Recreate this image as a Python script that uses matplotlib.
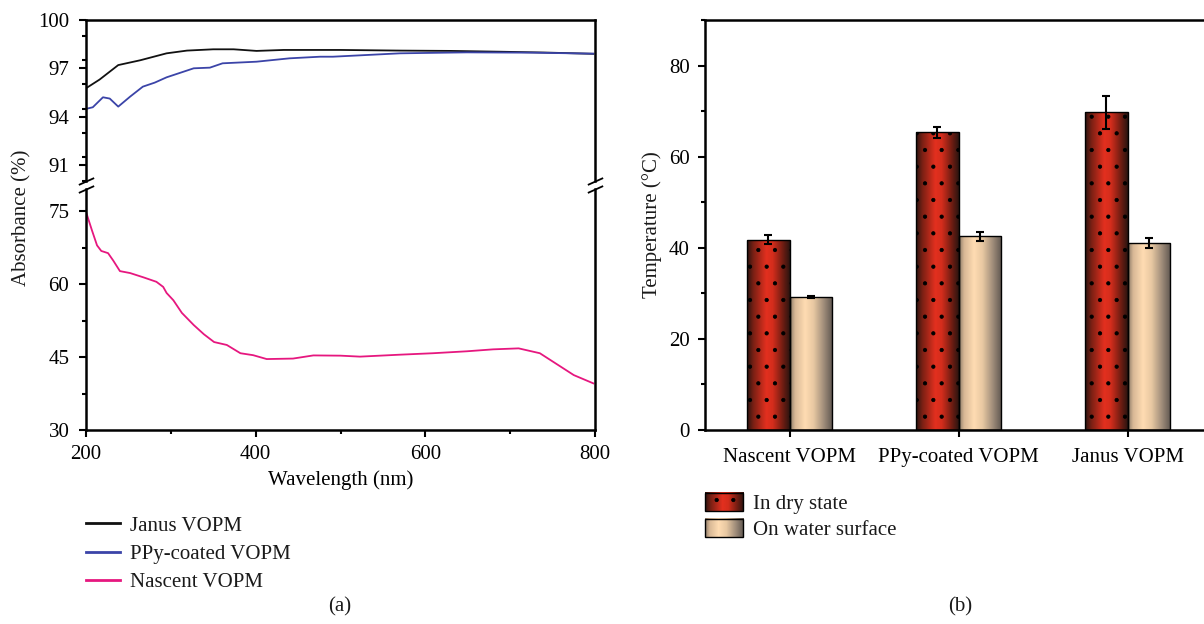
import numpy as np
import matplotlib.pyplot as plt
from matplotlib.colors import LinearSegmentedColormap
from matplotlib.legend_handler import HandlerBase
from matplotlib.image import BboxImage
from matplotlib.transforms import Bbox, TransformedBbox
from matplotlib.patches import Rectangle
from matplotlib.lines import Line2D
from matplotlib.ticker import MultipleLocator

plt.rcParams['font.family'] = ['Liberation Serif', 'DejaVu Serif']
plt.rcParams['font.size'] = 15
plt.rcParams['text.color'] = '#1a1a1a'
plt.rcParams['hatch.linewidth'] = 0.6

# (a) absorbance spectra
wl_janus = [200, 216, 238, 264, 295, 319, 350, 374, 401, 433, 452, 500, 570, 630, 688, 740, 798]
abs_janus = [95.76, 96.3, 97.2, 97.5, 97.93, 98.1, 98.18, 98.18, 98.08, 98.14, 98.14, 98.14,
             98.1, 98.08, 98.03, 97.98, 97.9]

wl_ppy = [200, 208, 220, 228, 238, 252, 267, 281, 295, 327, 346, 361, 401, 440, 476, 491,
          570, 649, 727, 798]
abs_ppy = [94.48, 94.58, 95.2, 95.12, 94.62, 95.24, 95.86, 96.11, 96.44, 97.0, 97.04, 97.31,
           97.41, 97.62, 97.72, 97.72, 97.93, 97.99, 97.97, 97.91]

wl_nascent = [200, 207, 213, 218, 226, 232, 240, 252, 268, 283, 291, 295, 303, 313, 327, 339,
              351, 366, 382, 397, 413, 444, 468, 500, 523, 570, 609, 649, 680, 710, 735, 751,
              775, 798]
abs_nascent = [74.9, 71.1, 68.0, 66.85, 66.4, 64.9, 62.7, 62.3, 61.4, 60.5, 59.45, 58.2, 56.7,
               54.1, 51.6, 49.7, 48.1, 47.5, 45.8, 45.4, 44.6, 44.7, 45.35, 45.3, 45.1, 45.5,
               45.8, 46.2, 46.6, 46.8, 45.8, 44.0, 41.3, 39.6]

# (b) surface temperature
samples = ['Nascent VOPM', 'PPy-coated VOPM', 'Janus VOPM']
temp_dry = [41.8, 65.4, 69.7]
err_dry = [1.0, 1.2, 3.6]
temp_water = [29.2, 42.5, 41.0]
err_water = [0.3, 1.0, 1.1]

cmap_dry = LinearSegmentedColormap.from_list('dry', [
    (0, '#2a1410'), (0.15, '#7a2014'), (0.45, '#e3301f'), (0.6, '#d42d1c'),
    (0.85, '#6a1c12'), (1, '#2a1410')])
cmap_water = LinearSegmentedColormap.from_list('water', [
    (0, '#8c7a68'), (0.12, '#d8b896'), (0.35, '#ffdcb2'), (0.55, '#e8c8a2'),
    (0.8, '#9c8a78'), (1, '#5e5650')])
grad = np.linspace(0, 1, 256).reshape(1, -1)


class GradientHandler(HandlerBase):
    def __init__(self, cmap, hatch):
        super().__init__()
        self.cmap = cmap
        self.hatch = hatch

    def create_artists(self, legend, orig_handle, xdescent, ydescent, width, height,
                       fontsize, trans):
        bb = TransformedBbox(Bbox.from_bounds(-xdescent, -ydescent, width, height), trans)
        img = BboxImage(bb, cmap=self.cmap, interpolation='bilinear')
        img.set_data(grad)
        rect = Rectangle((-xdescent, -ydescent), width, height, facecolor='none',
                         edgecolor='black', hatch=self.hatch, lw=1.0, transform=trans)
        return [img, rect]


def style_axis(ax):
    for sp in ax.spines.values():
        sp.set_linewidth(1.8)
    ax.tick_params(which='major', direction='out', length=5, width=1.5, pad=7,
                   labelsize=15)
    ax.tick_params(which='minor', direction='out', length=3, width=1.5)


W, H = 1204, 624
fig = plt.figure(figsize=(W / 100, H / 100), dpi=100)


def fx(px):
    return px / W


def fy(py):
    return 1 - py / H


# ---- panel (a): broken y axis ----
ax_top = fig.add_axes([fx(86), fy(181), fx(595 - 86), fy(20) - fy(181)])
ax_bot = fig.add_axes([fx(86), fy(430), fx(595 - 86), fy(189) - fy(430)])

for ax in (ax_top, ax_bot):
    ax.plot(wl_janus, abs_janus, color='#111111', lw=1.3)
    ax.plot(wl_ppy, abs_ppy, color='#3b44a8', lw=1.3)
    ax.plot(wl_nascent, abs_nascent, color='#e6177f', lw=1.3)
    ax.set_xlim(200, 800)
    style_axis(ax)
    ax.xaxis.set_major_locator(MultipleLocator(200))
    ax.xaxis.set_minor_locator(MultipleLocator(100))

ax_top.set_ylim(90, 100)
ax_top.set_yticks([91, 94, 97, 100])
ax_top.yaxis.set_minor_locator(MultipleLocator(1.5))
ax_top.spines['bottom'].set_visible(False)
ax_top.tick_params(axis='x', which='both', bottom=False, labelbottom=False)

ax_bot.set_ylim(30, 79.6)
ax_bot.set_yticks([30, 45, 60, 75])
ax_bot.yaxis.set_minor_locator(MultipleLocator(7.5))
ax_bot.spines['top'].set_visible(False)
ax_bot.tick_params(axis='x', which='major', pad=5.5)
ax_bot.set_xlabel('Wavelength (nm)', fontsize=15, labelpad=5)

brk = [(-1, -0.45), (1, 0.45)]
for xa in (0, 1):
    ax_top.plot([xa], [0], transform=ax_top.transAxes, marker=brk, markersize=11,
                color='black', mew=1.3, clip_on=False)
    ax_bot.plot([xa], [1], transform=ax_bot.transAxes, marker=brk, markersize=11,
                color='black', mew=1.3, clip_on=False)

fig.text(fx(22), fy(218), 'Absorbance (%)', rotation=90, ha='center', va='center',
         fontsize=15)

handles_a = [Line2D([], [], color='#111111', lw=2),
             Line2D([], [], color='#3b44a8', lw=2),
             Line2D([], [], color='#e6177f', lw=2)]
fig.legend(handles_a, ['Janus VOPM', 'PPy-coated VOPM', 'Nascent VOPM'],
           loc='upper left', bbox_to_anchor=(fx(86), fy(516)), frameon=False,
           borderpad=0, borderaxespad=0, handlelength=1.63, handletextpad=0.48,
           labelspacing=0.42, fontsize=15)
fig.text(fx(340), fy(607), '(a)', ha='center', va='center', fontsize=15)

# ---- panel (b): bar chart ----
ax2 = fig.add_axes([fx(705), fy(430), fx(1212 - 705), fy(20) - fy(430)])
x = np.arange(len(samples))
bw = 0.254
bars_dry = ax2.bar(x - bw / 2, temp_dry, bw, facecolor='none', edgecolor='black',
                   lw=1.0, hatch='.', zorder=2)
bars_water = ax2.bar(x + bw / 2, temp_water, bw, facecolor='none', edgecolor='black',
                     lw=1.0, zorder=2)
for bars, cm in ((bars_dry, cmap_dry), (bars_water, cmap_water)):
    for r in bars:
        x0, y0, w, h = r.get_x(), r.get_y(), r.get_width(), r.get_height()
        im = ax2.imshow(grad, extent=[x0, x0 + w, y0, y0 + h], aspect='auto', cmap=cm,
                        interpolation='bilinear', zorder=1.5)
        im.set_clip_path(r)
ax2.errorbar(x - bw / 2, temp_dry, yerr=err_dry, fmt='none', ecolor='black',
             elinewidth=1.5, capsize=3, capthick=1.5, zorder=3)
ax2.errorbar(x + bw / 2, temp_water, yerr=err_water, fmt='none', ecolor='black',
             elinewidth=1.5, capsize=3, capthick=1.5, zorder=3)

ax2.set_xlim(-0.5, 2.5)
ax2.set_ylim(0, 90)
style_axis(ax2)
ax2.set_xticks(x)
ax2.set_xticklabels(samples)
ax2.tick_params(axis='x', which='major', pad=8)
ax2.set_yticks([0, 20, 40, 60, 80])
ax2.yaxis.set_minor_locator(MultipleLocator(10))
ax2.tick_params(axis='y', pad=6)

fig.text(fx(652), fy(225), 'Temperature (°C)', rotation=90, ha='center', va='center',
         fontsize=15)

p1 = Rectangle((0, 0), 1, 1)
p2 = Rectangle((0, 0), 1, 1)
fig.legend([p1, p2], ['In dry state', 'On water surface'], loc='upper left',
           bbox_to_anchor=(fx(705), fy(493)), frameon=False, borderpad=0,
           borderaxespad=0, handlelength=1.83, handleheight=0.96, handletextpad=0.48,
           labelspacing=0.22, fontsize=15,
           handler_map={p1: GradientHandler(cmap_dry, '.'),
                        p2: GradientHandler(cmap_water, None)})
fig.text(fx(960), fy(607), '(b)', ha='center', va='center', fontsize=15)

fig.savefig('out.png', dpi=100)
